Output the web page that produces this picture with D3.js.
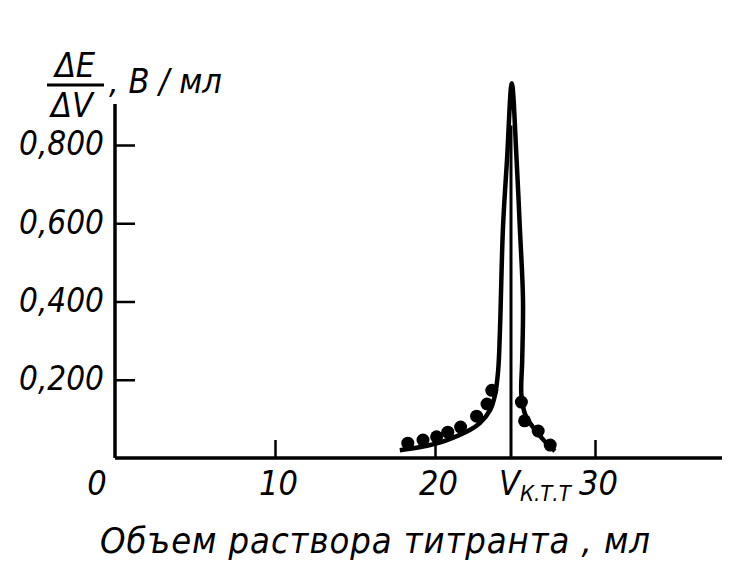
<!DOCTYPE html>
<html>
<head>
<meta charset="utf-8">
<script src="https://cdn.jsdelivr.net/npm/d3@7"></script>
<style>
  html, body { margin: 0; padding: 0; background: #fff; }
  svg { display: block; }
  text { font-family: "DejaVu Sans Condensed", "DejaVu Sans", sans-serif; font-stretch: condensed; font-style: italic; fill: #000; }
</style>
</head>
<body>
<script>
// ---- data ----
const xTicks = [10, 20, 30];
const yTicks = [0.2, 0.4, 0.6, 0.8];
const yTickLabels = ["0,200", "0,400", "0,600", "0,800"];
// experimental points (volume, dE/dV)
const ptsX = [18.3, 19.25, 20.1, 20.8, 21.6, 22.6, 23.25, 23.55, 25.4, 25.6, 26.45, 27.2];
const ptsY = [0.038, 0.046, 0.054, 0.066, 0.079, 0.107, 0.138, 0.173, 0.143, 0.095, 0.069, 0.033];
// smooth titration curve, drawn in order
const curveX = [17.8, 19.1, 20.75, 22.2, 22.8, 23.45, 23.75, 23.95, 24.06, 24.25, 24.5, 24.8, 25.1, 25.3, 25.5, 25.45, 25.4, 25.65, 26.25, 26.9, 27.5];
const curveY = [0.020, 0.028, 0.046, 0.072, 0.089, 0.123, 0.161, 0.225, 0.327, 0.590, 0.762, 0.958, 0.762, 0.590, 0.404, 0.250, 0.161, 0.110, 0.072, 0.041, 0.018];
const vEquiv = 24.75;
const vEquivTop = 0.85;

const W = 748, H = 577;
const svg = d3.select("body").append("svg").attr("width", W).attr("height", H);

const x = d3.scaleLinear().domain([0, 30]).range([115, 595]);
const y = d3.scaleLinear().domain([0, 0.8]).range([458, 145]);
const xEnd = x.invert(722);
const yTop = y.invert(104);

// axes lines
const g = svg.append("g");
g.append("line").attr("x1", x(0)).attr("x2", x(xEnd)).attr("y1", y(0)).attr("y2", y(0))
  .attr("stroke", "#000").attr("stroke-width", 3.5);
g.append("line").attr("x1", x(0)).attr("x2", x(0)).attr("y1", y(0)).attr("y2", y(yTop))
  .attr("stroke", "#000").attr("stroke-width", 3.5);

// x axis ticks + labels
const xAxis = d3.axisBottom(x).tickValues(xTicks).tickSize(-18).tickPadding(30).tickFormat(d3.format("d"));
const xg = svg.append("g").attr("transform", `translate(0,${y(0)})`).call(xAxis);
xg.select(".domain").remove();
xg.selectAll(".tick line").attr("stroke", "#000").attr("stroke-width", 2.5);
xg.selectAll(".tick text").attr("font-size", 34).attr("font-family", null).attr("dy", "0.2em").attr("dx", 3);
svg.append("text").attr("x", x(0) - 18).attr("y", y(0) + 37).attr("text-anchor", "middle")
  .attr("font-size", 34).text("0");

// y axis ticks + labels
const yAxis = d3.axisLeft(y).tickValues(yTicks).tickSize(-20).tickPadding(11)
  .tickFormat((d, i) => yTickLabels[i]);
const yg = svg.append("g").attr("transform", `translate(${x(0)},0)`).call(yAxis);
yg.select(".domain").remove();
yg.selectAll(".tick line").attr("stroke", "#000").attr("stroke-width", 2.5);
yg.selectAll(".tick text").attr("font-size", 33).attr("font-family", null).attr("dy", "0.3em");

// equivalence volume line
svg.append("line").attr("x1", x(vEquiv)).attr("x2", x(vEquiv)).attr("y1", y(0)).attr("y2", y(vEquivTop))
  .attr("stroke", "#000").attr("stroke-width", 3);

// curve
const curvePts = curveX.map((v, i) => [v, curveY[i]]);
svg.append("path").datum(curvePts)
  .attr("d", d3.line().x(d => x(d[0])).y(d => y(d[1])).curve(d3.curveCatmullRom.alpha(0.5)))
  .attr("fill", "none").attr("stroke", "#000").attr("stroke-width", 4.5).attr("stroke-linejoin", "round");

// points
svg.append("g").selectAll("circle").data(ptsX.map((v, i) => [v, ptsY[i]])).join("circle")
  .attr("cx", d => x(d[0])).attr("cy", d => y(d[1])).attr("r", 6.5).attr("fill", "#000");

// V k.t.t label
const vl = svg.append("text").attr("x", x(vEquiv) - 12).attr("y", y(0) + 37).attr("font-size", 34);
vl.append("tspan").text("V");
vl.append("tspan").attr("font-size", 22).attr("dy", 6).text("К.Т.Т");

// x title
svg.append("text").attr("x", 100).attr("y", 553).attr("font-size", 36)
  .attr("textLength", 550).attr("lengthAdjust", "spacing")
  .text("Объем  раствора  титранта ,  мл");

// y title: fraction dE/dV, В/мл
svg.append("text").attr("x", 75).attr("y", 77).attr("text-anchor", "middle").attr("font-size", 34).text("ΔE");
svg.append("line").attr("x1", 47).attr("x2", 104).attr("y1", 85).attr("y2", 85).attr("stroke", "#000").attr("stroke-width", 3);
svg.append("text").attr("x", 72).attr("y", 117).attr("text-anchor", "middle").attr("font-size", 34).text("ΔV");
svg.append("text").attr("x", 109).attr("y", 93).attr("font-size", 34).text(",  В / мл");
</script>
</body>
</html>
